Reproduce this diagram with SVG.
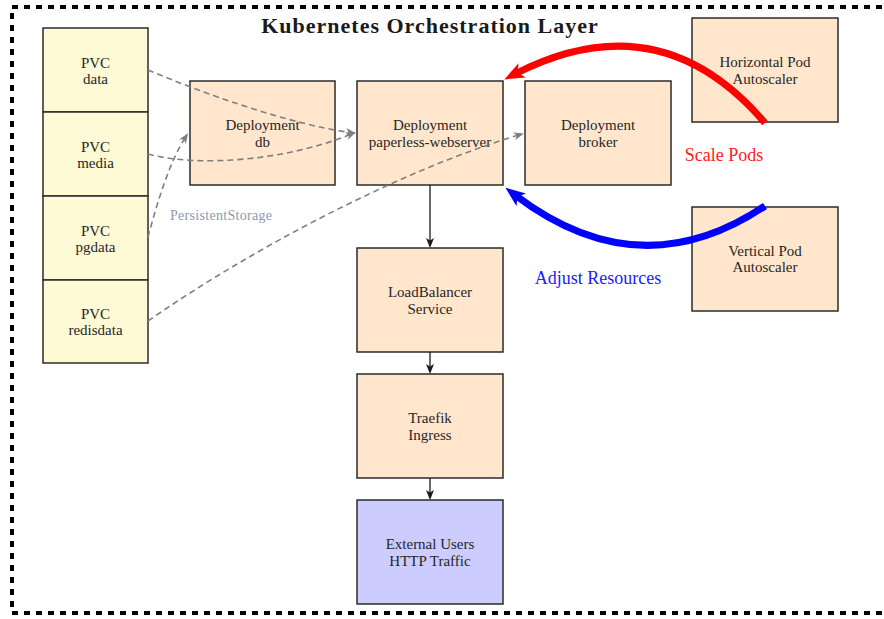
<svg xmlns="http://www.w3.org/2000/svg" width="884" height="619" viewBox="0 0 884 619">
<defs>
<style>
.box{stroke:#2b2b2b;stroke-width:1.5}
.pvc{fill:#FFFAD6}
.dep{fill:#FFE6CC}
.ext{fill:#CCCCFF}
text{font-family:"Liberation Serif","DejaVu Serif",serif;fill:#262626}
.lbl{font-size:15px;text-anchor:middle}
.dash{fill:none;stroke:#808080;stroke-width:1.6;stroke-dasharray:6 4}
.solid{fill:none;stroke:#1a1a1a;stroke-width:1.3}
</style>
<marker id="ag" markerUnits="userSpaceOnUse" viewBox="0 0 10 8" markerWidth="10" markerHeight="8" refX="8" refY="4" orient="auto">
<path d="M0,0 L10,4 L0,8 L2.5,4 z" fill="#808080"/>
</marker>
<marker id="ab" markerUnits="userSpaceOnUse" viewBox="0 0 10 8" markerWidth="10" markerHeight="8" refX="8" refY="4" orient="auto">
<path d="M0,0 L10,4 L0,8 L2.5,4 z" fill="#1a1a1a"/>
</marker>
<marker id="ar" markerUnits="userSpaceOnUse" viewBox="0 0 20 16" markerWidth="20" markerHeight="16" refX="8" refY="8" orient="auto">
<path d="M0,0 L20,8 L0,16 L5,8 z" fill="#FF0000"/>
</marker>
<marker id="abl" markerUnits="userSpaceOnUse" viewBox="0 0 20 16" markerWidth="20" markerHeight="16" refX="8" refY="8" orient="auto">
<path d="M0,0 L20,8 L0,16 L5,8 z" fill="#0000FF"/>
</marker>
</defs>
<rect width="884" height="619" fill="#ffffff"/>
<rect x="12" y="7" width="876" height="606" fill="none" stroke="#000" stroke-width="4" stroke-dasharray="6 6"/>
<text x="430" y="33" style="font-size:22px;font-weight:bold;text-anchor:middle;fill:#1a1a1a;letter-spacing:1px">Kubernetes Orchestration Layer</text>

<g id="pvc-data"><rect class="box pvc" x="43" y="28" width="105" height="84"/><text class="lbl" x="95.5" y="67.5">PVC</text><text class="lbl" x="95.5" y="83.5">data</text></g>
<g id="pvc-media"><rect class="box pvc" x="43" y="112" width="105" height="84"/><text class="lbl" x="95.5" y="151.5">PVC</text><text class="lbl" x="95.5" y="167.5">media</text></g>
<g id="pvc-pgdata"><rect class="box pvc" x="43" y="196" width="105" height="84"/><text class="lbl" x="95.5" y="235.5">PVC</text><text class="lbl" x="95.5" y="251.5">pgdata</text></g>
<g id="pvc-redisdata"><rect class="box pvc" x="43" y="280" width="105" height="83"/><text class="lbl" x="95.5" y="319">PVC</text><text class="lbl" x="95.5" y="335">redisdata</text></g>

<g id="deploy-db"><rect class="box dep" x="190" y="81" width="145" height="104"/><text class="lbl" x="262.5" y="130">Deployment</text><text class="lbl" x="262.5" y="146.5">db</text></g>
<g id="deploy-web"><rect class="box dep" x="357" y="81" width="146" height="104"/><text class="lbl" x="430" y="130">Deployment</text><text class="lbl" x="430" y="146.5">paperless-webserver</text></g>
<g id="deploy-broker"><rect class="box dep" x="525" y="81" width="146" height="104"/><text class="lbl" x="598" y="130">Deployment</text><text class="lbl" x="598" y="146.5">broker</text></g>
<g id="hpa"><rect class="box dep" x="692" y="18" width="146" height="104"/><text class="lbl" x="765" y="67">Horizontal Pod</text><text class="lbl" x="765" y="83.5">Autoscaler</text></g>
<g id="vpa"><rect class="box dep" x="692" y="207" width="146" height="104"/><text class="lbl" x="765" y="255.5">Vertical Pod</text><text class="lbl" x="765" y="272">Autoscaler</text></g>
<g id="lb"><rect class="box dep" x="357" y="248" width="146" height="104"/><text class="lbl" x="430" y="297">LoadBalancer</text><text class="lbl" x="430" y="313.5">Service</text></g>
<g id="traefik"><rect class="box dep" x="357" y="374" width="146" height="104"/><text class="lbl" x="430" y="423">Traefik</text><text class="lbl" x="430" y="439.5">Ingress</text></g>
<g id="external"><rect class="box ext" x="357" y="500" width="146" height="104"/><text class="lbl" x="430" y="549">External Users</text><text class="lbl" x="430" y="565.5">HTTP Traffic</text></g>

<g id="connectors">
<path class="dash" d="M148,70 C200,92 290,125 354,133" marker-end="url(#ag)"/>
<path class="dash" d="M148,154 C200,168 290,160 354,133" marker-end="url(#ag)"/>
<path class="dash" d="M148,237 C158,200 170,160 187,135" marker-end="url(#ag)"/>
<path class="dash" d="M148,321 C250,250 400,170 522,134" marker-end="url(#ag)"/>
<path class="solid" d="M430,185 L430,246" marker-end="url(#ab)"/>
<path class="solid" d="M430,352 L430,372" marker-end="url(#ab)"/>
<path class="solid" d="M430,478 L430,498" marker-end="url(#ab)"/>
<path d="M765,123 Q660,0 515,74" fill="none" stroke="#FF0000" stroke-width="7" marker-end="url(#ar)"/>
<path d="M765,206 Q640,290 515,195" fill="none" stroke="#0000FF" stroke-width="7" marker-end="url(#abl)"/>
<text x="170" y="220" style="font-size:14px;fill:#8a9ab0;letter-spacing:0.3px">PersistentStorage</text>
<text x="724" y="161" style="font-size:18px;fill:#FF2020;text-anchor:middle">Scale Pods</text>
<text x="598" y="284" style="font-size:18px;fill:#2020FF;text-anchor:middle">Adjust Resources</text>
</g>
</svg>
